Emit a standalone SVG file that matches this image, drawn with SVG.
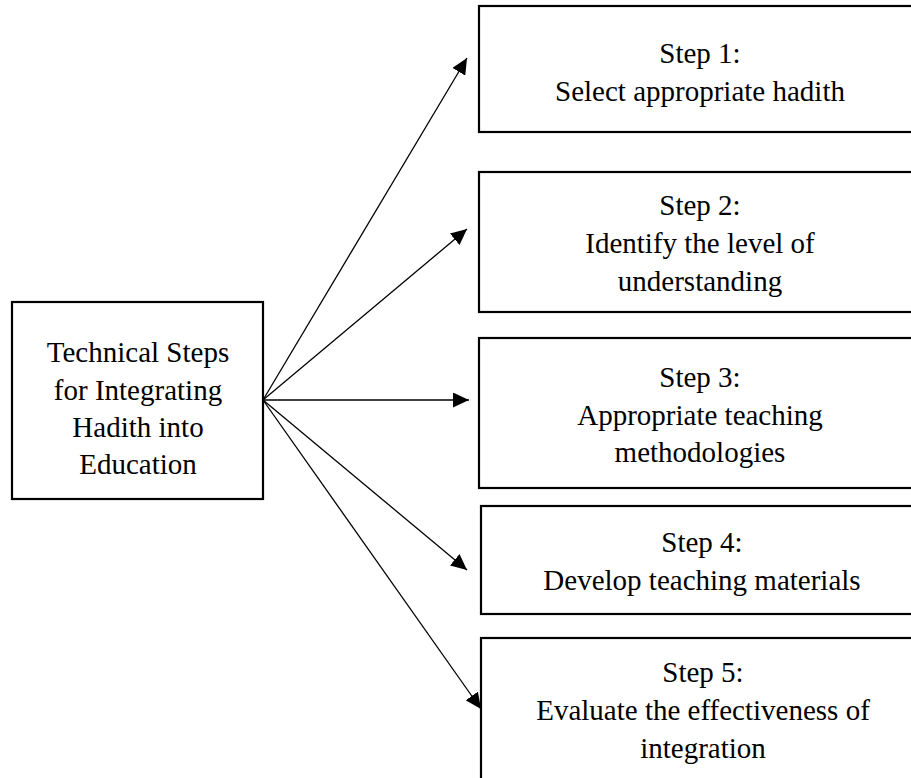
<svg xmlns="http://www.w3.org/2000/svg" width="911" height="778" viewBox="0 0 911 778">
<style>
.box{fill:#fff;stroke:#000;stroke-width:2.2}
.t{font-family:'Liberation Serif','DejaVu Serif','Times New Roman',serif;font-size:29px;fill:#000;text-anchor:middle}
.c{stroke:#000;stroke-width:1.3;fill:none}
</style>
<defs>
<marker id="ah" markerUnits="userSpaceOnUse" markerWidth="17" markerHeight="15" refX="16" refY="7.5" orient="auto">
<path d="M0,0 L16,7.5 L0,15 Z" fill="#000"/>
</marker>
</defs>
<rect width="911" height="778" fill="#fff"/>
<g id="connectors">
<line class="c" x1="263" y1="400" x2="467" y2="58" marker-end="url(#ah)"/>
<line class="c" x1="263" y1="400" x2="467" y2="229" marker-end="url(#ah)"/>
<line class="c" x1="263" y1="400" x2="469" y2="400" marker-end="url(#ah)"/>
<line class="c" x1="263" y1="400" x2="467" y2="570" marker-end="url(#ah)"/>
<line class="c" x1="263" y1="400" x2="481" y2="709" marker-end="url(#ah)"/>
</g>
<g id="source">
<rect class="box" x="12" y="302" width="251" height="197"/>
<text class="t" x="138" y="362">Technical Steps</text>
<text class="t" x="138" y="400">for Integrating</text>
<text class="t" x="138" y="437">Hadith into</text>
<text class="t" x="138" y="474">Education</text>
</g>
<g id="step1">
<rect class="box" x="479" y="6" width="440" height="126"/>
<text class="t" x="700" y="63">Step 1:</text>
<text class="t" x="700" y="101">Select appropriate hadith</text>
</g>
<g id="step2">
<rect class="box" x="479" y="172" width="440" height="140"/>
<text class="t" x="700" y="215">Step 2:</text>
<text class="t" x="700" y="253">Identify the level of</text>
<text class="t" x="700" y="291">understanding</text>
</g>
<g id="step3">
<rect class="box" x="479" y="338" width="440" height="150"/>
<text class="t" x="700" y="387">Step 3:</text>
<text class="t" x="700" y="425">Appropriate teaching</text>
<text class="t" x="700" y="462">methodologies</text>
</g>
<g id="step4">
<rect class="box" x="481" y="506" width="440" height="108"/>
<text class="t" x="702" y="552">Step 4:</text>
<text class="t" x="702" y="590">Develop teaching materials</text>
</g>
<g id="step5">
<rect class="box" x="481" y="638" width="440" height="160"/>
<text class="t" x="703" y="682">Step 5:</text>
<text class="t" x="703" y="720">Evaluate the effectiveness of</text>
<text class="t" x="703" y="758">integration</text>
</g>
</svg>
